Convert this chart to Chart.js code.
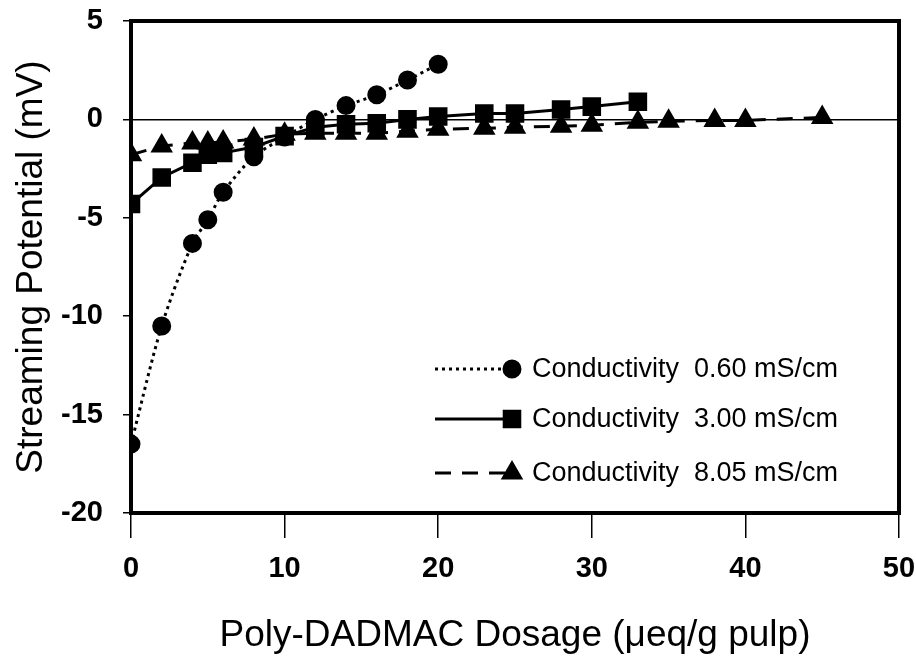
<!DOCTYPE html>
<html>
<head>
<meta charset="utf-8">
<script src="https://cdn.jsdelivr.net/npm/chart.js@4.4.1/dist/chart.umd.min.js"></script>
<style>
  html, body { margin: 0; padding: 0; background: #fff; }
  #wrap { width: 916px; height: 660px; }
</style>
</head>
<body>
<div id="wrap"><canvas id="chart" width="916" height="660"></canvas></div>
<script>
// Streaming potential vs Poly-DADMAC dosage, three conductivities
const seriesNames = ['Conductivity  0.60 mS/cm', 'Conductivity  3.00 mS/cm', 'Conductivity  8.05 mS/cm'];

const dose060 = [0, 2, 4, 5, 6, 8, 10, 12, 14, 16, 18, 20];
const pot060  = [-16.5, -10.5, -6.3, -5.1, -3.7, -1.9, -0.9, 0.0, 0.7, 1.25, 2.0, 2.8];

const dose300 = [0, 2, 4, 5, 6, 8, 10, 12, 14, 16, 18, 20, 23, 25, 28, 30, 33];
const pot300  = [-4.3, -2.95, -2.2, -1.8, -1.7, -1.4, -0.85, -0.4, -0.25, -0.2, 0.0, 0.15, 0.3, 0.3, 0.5, 0.65, 0.9];

const dose805 = [0, 2, 4, 5, 6, 8, 10, 12, 14, 16, 18, 20, 23, 25, 28, 30, 33, 35, 38, 40, 45];
const pot805  = [-1.8, -1.35, -1.2, -1.2, -1.15, -1.0, -0.75, -0.7, -0.7, -0.7, -0.6, -0.5, -0.45, -0.4, -0.35, -0.3, -0.15, -0.1, -0.05, -0.05, 0.1];

const xTicks = [0, 10, 20, 30, 40, 50];
const yTicks = [-20, -15, -10, -5, 0, 5];

const toPoints = (xs, ys) => xs.map((x, i) => ({ x: x, y: ys[i] }));

// frame on top/right, like the excel plot box
const framePlugin = {
    id: 'frame',
    afterDraw(chart) {
        const { ctx, chartArea: a } = chart;
        ctx.save();
        ctx.strokeStyle = '#000';
        ctx.lineWidth = 4;
        ctx.strokeRect(a.left, a.top, a.right - a.left, a.bottom - a.top);
        ctx.restore();
    }
};

// legend drawn inside the plot, line + marker + text
const boxLegend = {
    id: 'boxLegend',
    afterDraw(chart) {
        const { ctx, chartArea: a } = chart;
        const x0 = a.left + 304, x1 = a.left + 381;
        const rows = [a.bottom - 144, a.bottom - 94, a.bottom - 40];
        ctx.save();
        chart.data.datasets.forEach((ds, i) => {
            const y = rows[i];
            ctx.strokeStyle = '#000';
            ctx.lineWidth = ds.borderWidth;
            ctx.setLineDash(ds.borderDash || []);
            ctx.beginPath();
            ctx.moveTo(x0, y);
            ctx.lineTo(x1, y);
            ctx.stroke();
            ctx.setLineDash([]);
            ctx.fillStyle = '#000';
            Chart.helpers.drawPoint(ctx, { pointStyle: ds.pointStyle, radius: ds.pointRadius, rotation: 0, borderWidth: 1 }, x1, y);
            ctx.font = '27px Arial, "Liberation Sans", sans-serif';
            ctx.textBaseline = 'middle';
            ctx.textAlign = 'left';
            ctx.fillText(ds.label, x1 + 20, y + 1);
        });
        ctx.restore();
    }
};

new Chart(document.getElementById('chart'), {
    type: 'line',
    data: {
        datasets: [{
            label: seriesNames[0],
            data: toPoints(dose060, pot060),
            borderColor: '#000',
            backgroundColor: '#000',
            borderWidth: 3,
            borderDash: [3, 4],
            pointStyle: 'circle',
            pointRadius: 8,
            tension: 0.3
        }, {
            label: seriesNames[1],
            data: toPoints(dose300, pot300),
            borderColor: '#000',
            backgroundColor: '#000',
            borderWidth: 3,
            pointStyle: 'rect',
            pointRadius: 11,
            tension: 0
        }, {
            label: seriesNames[2],
            data: toPoints(dose805, pot805),
            borderColor: '#000',
            backgroundColor: '#000',
            borderWidth: 3,
            borderDash: [16, 11],
            pointStyle: 'triangle',
            pointRadius: 10,
            tension: 0
        }]
    },
    options: {
        responsive: false,
        animation: false,
        layout: { padding: { top: 21, right: 17, left: 0, bottom: 0 } },
        plugins: {
            legend: { display: false },
            tooltip: { enabled: false }
        },
        scales: {
            x: {
                type: 'linear',
                min: 0,
                max: 50,
                afterBuildTicks: s => { s.ticks = xTicks.map(v => ({ value: v })); },
                afterFit: s => { s.height = 147; s.paddingLeft = 0; s.paddingRight = 0; },
                ticks: {
                    color: '#000',
                    padding: 14,
                    font: { family: 'Arial, "Liberation Sans", sans-serif', size: 29, weight: 'bold' }
                },
                grid: {
                    drawOnChartArea: false,
                    tickLength: 25,
                    tickColor: '#000',
                    lineWidth: 1.5
                },
                border: { display: true, color: '#000', width: 4 },
                title: {
                    display: true,
                    text: 'Poly-DADMAC Dosage (\u03bceq/g pulp)',
                    color: '#000',
                    font: { family: 'Arial, "Liberation Sans", sans-serif', size: 37 },
                    padding: { top: 0, bottom: 2 }
                }
            },
            y: {
                min: -20,
                max: 5,
                afterBuildTicks: s => { s.ticks = yTicks.map(v => ({ value: v })); },
                afterFit: s => { s.width = 131; s.paddingTop = 0; s.paddingBottom = 0; },
                ticks: {
                    color: '#000',
                    padding: 20,
                    font: { family: 'Arial, "Liberation Sans", sans-serif', size: 29, weight: 'bold' }
                },
                grid: {
                    color: c => (c.tick && c.tick.value === 0 ? '#000' : 'rgba(0,0,0,0)'),
                    lineWidth: 1.5,
                    tickLength: 8,
                    tickColor: '#000'
                },
                border: { display: true, color: '#000', width: 4 },
                title: {
                    display: true,
                    text: 'Streaming Potential (mV)',
                    color: '#000',
                    font: { family: 'Arial, "Liberation Sans", sans-serif', size: 37 },
                    padding: { top: 10, bottom: 0 }
                }
            }
        }
    },
    plugins: [framePlugin, boxLegend]
});
</script>
</body>
</html>
